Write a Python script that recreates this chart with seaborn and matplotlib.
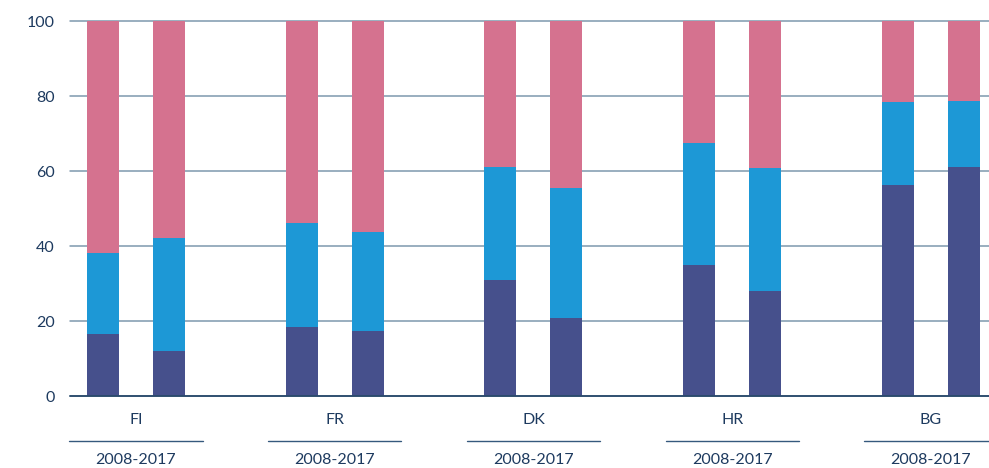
import numpy as np
import pandas as pd
import matplotlib
matplotlib.use("Agg")
import matplotlib.pyplot as plt
import matplotlib.transforms as mtransforms
import seaborn as sns

# data (shares in %)
countries = ["FI", "FR", "DK", "HR", "BG"]
years = ["2008", "2017"]
period_label = "2008-2017"
# one value per (country, year) in order FI08, FI17, FR08, ...
dark_vals = [16.7, 12.2, 18.5, 17.5, 31.1, 20.9, 35.1, 28.1, 56.4, 61.2]
blue_vals = [21.4, 30.1, 27.8, 26.4, 30.1, 34.7, 32.5, 32.8, 22.1, 17.6]
pink_vals = [61.9, 57.7, 53.7, 56.1, 38.8, 44.4, 32.4, 39.1, 21.5, 21.2]
y_ticks = [0, 20, 40, 60, 80, 100]

c_dark = "#46508c"
c_blue = "#1d98d6"
c_pink = "#d5728f"
c_text = "#1d3a5f"
c_grid = "#7d98ae"

sns.set_theme(style="white")
plt.rcParams["font.family"] = ["Lato", "DejaVu Sans"]

df = pd.DataFrame({
    "country": np.repeat(countries, len(years)),
    "year": years * len(countries),
    "dark": dark_vals,
    "blue": blue_vals,
    "pink": pink_vals,
})
df["lvl1"] = df["dark"]
df["lvl2"] = df["dark"] + df["blue"]
df["lvl3"] = df["dark"] + df["blue"] + df["pink"]

fig = plt.figure(figsize=(9.89, 4.68), dpi=100)
ax = fig.add_axes([0.0708, 0.1528, 0.9292, 0.8023])

# stacked by overlapping cumulative bars, tallest first
for col, color in [("lvl3", c_pink), ("lvl2", c_blue), ("lvl1", c_dark)]:
    sns.barplot(data=df, x="country", y=col, hue="year", order=countries,
                hue_order=years, palette=[color, color], width=0.664, gap=0.515,
                saturation=1, legend=False, errorbar=None, ax=ax, zorder=2,
                linewidth=0)

ax.set_xlim(-0.332, 4.292)
ax.set_ylim(0, 100)
ax.set_yticks(y_ticks)
ax.set_yticklabels([str(t) for t in y_ticks], color=c_text, fontsize=11.5)
ax.tick_params(axis="y", length=0, pad=11)
ax.set_xticks([])
ax.set_xlabel("")
ax.set_ylabel("")
for s in ax.spines.values():
    s.set_visible(False)

ax.yaxis.grid(True, color=c_grid, linewidth=1.1, zorder=0)
ax.set_axisbelow(True)
for gl in ax.get_ygridlines():
    gl.set_clip_on(False)
ax.axhline(0, color="#2a4a6b", linewidth=1.3, zorder=3, clip_on=False)

trans = mtransforms.blended_transform_factory(ax.transData, ax.transAxes)
for i, name in enumerate(countries):
    ax.text(i, -0.0626, name, transform=trans, ha="center", va="center",
            color=c_text, fontsize=11.5)
    ax.plot([i - 0.335, i + 0.335], [-0.1185, -0.1185], transform=trans,
            color="#35597d", linewidth=1.0, clip_on=False)
    ax.text(i, -0.169, period_label, transform=trans, ha="center", va="center",
            color=c_text, fontsize=11.5)

fig.savefig("out.png", dpi=100)
